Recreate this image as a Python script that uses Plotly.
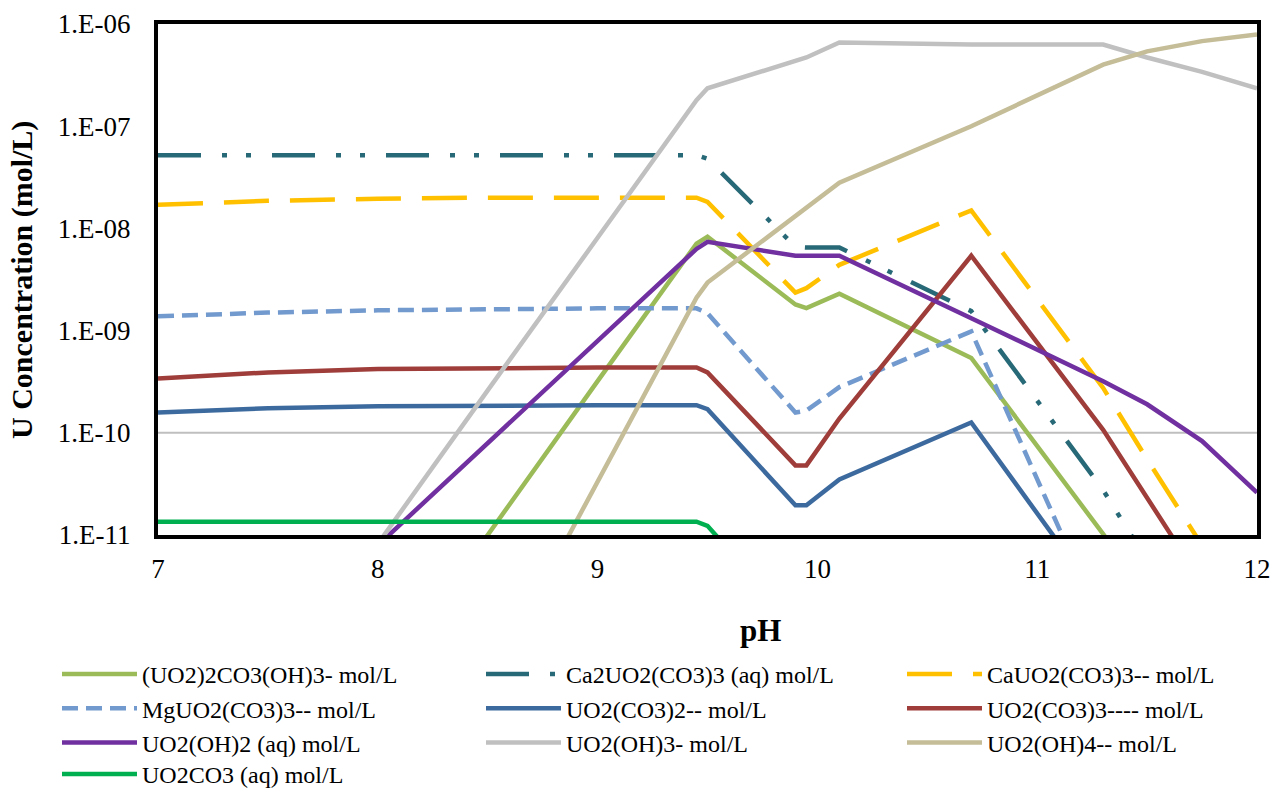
import plotly.graph_objects as go

# pH grid of the speciation run
ph = [7.0, 7.5, 8.0, 8.5, 9.0, 9.45, 9.5, 9.9, 9.95, 10.1, 10.7, 11.3, 11.5, 11.75, 12.0]

# species concentrations (mol/L) at each pH
uo2_2_co3_oh3 = [3.2e-16, 1.0e-14, 3.2e-13, 1.0e-11, 3.2e-10, 7.1e-9, 8.3e-9, 1.8e-9, 1.66e-9,
                 2.3e-9, 5.4e-10, 1.0e-11, 2.5e-12, 5.0e-13, 1.0e-13]
ca2_uo2_co3_3 = [5.2e-8, 5.2e-8, 5.2e-8, 5.2e-8, 5.2e-8, 5.2e-8, 4.8e-8, 6.6e-9, 6.5e-9,
                 6.5e-9, 1.55e-9, 2.75e-11, 5.6e-12, 1.0e-12, 1.6e-13]
ca_uo2_co3_3 = [1.7e-8, 1.86e-8, 1.95e-8, 2.0e-8, 2.0e-8, 2.0e-8, 1.82e-8, 2.35e-9, 2.6e-9,
                4.4e-9, 1.5e-8, 2.75e-10, 5.5e-11, 7.9e-12, 1.6e-12]
mg_uo2_co3_3 = [1.38e-9, 1.5e-9, 1.58e-9, 1.62e-9, 1.65e-9, 1.65e-9, 1.48e-9, 1.58e-10, 1.65e-10,
                2.8e-10, 9.8e-10, 1.26e-12, 2.5e-13, 5.0e-14, 1.0e-14]
uo2_co3_2 = [1.58e-10, 1.74e-10, 1.82e-10, 1.86e-10, 1.86e-10, 1.86e-10, 1.7e-10, 1.95e-11, 1.95e-11,
             3.5e-11, 1.26e-10, 2.1e-12, 5.0e-13, 1.0e-13, 2.0e-14]
uo2_co3_3 = [3.4e-10, 3.9e-10, 4.2e-10, 4.3e-10, 4.35e-10, 4.35e-10, 3.9e-10, 4.8e-11, 4.8e-11,
             1.38e-10, 5.4e-9, 1.07e-10, 2.2e-11, 3.2e-12, 5.0e-13]
uo2_oh2 = [7.9e-14, 7.9e-13, 7.9e-12, 7.9e-11, 7.9e-10, 6.3e-9, 7.4e-9, 5.4e-9, 5.4e-9,
           5.4e-9, 1.32e-9, 3.2e-10, 1.9e-10, 8.3e-11, 2.6e-11]
uo2_oh3 = [8.1e-15, 2.6e-13, 8.1e-12, 2.6e-10, 8.1e-9, 1.8e-7, 2.35e-7, 4.3e-7, 4.7e-7,
           6.6e-7, 6.3e-7, 6.3e-7, 4.7e-7, 3.4e-7, 2.35e-7]
uo2_oh4 = [3.3e-19, 3.3e-17, 3.3e-15, 3.3e-13, 3.3e-11, 2.1e-9, 2.95e-9, 1.3e-8, 1.6e-8,
           2.8e-8, 1.0e-7, 4.0e-7, 5.4e-7, 6.8e-7, 7.9e-7]
uo2_co3 = [1.35e-11, 1.35e-11, 1.35e-11, 1.35e-11, 1.35e-11, 1.35e-11, 1.23e-11, 1.26e-12, 1.0e-12,
           8.0e-13, 5.0e-13, 3.0e-13, 2.0e-13, 1.0e-13, 5.0e-14]

series_names = [
    "(UO2)2CO3(OH)3- mol/L", "Ca2UO2(CO3)3 (aq) mol/L", "CaUO2(CO3)3-- mol/L",
    "MgUO2(CO3)3-- mol/L", "UO2(CO3)2-- mol/L", "UO2(CO3)3---- mol/L",
    "UO2(OH)2 (aq) mol/L", "UO2(OH)3- mol/L", "UO2(OH)4-- mol/L",
    "UO2CO3 (aq) mol/L",
]
series_values = [uo2_2_co3_oh3, ca2_uo2_co3_3, ca_uo2_co3_3, mg_uo2_co3_3, uo2_co3_2,
                 uo2_co3_3, uo2_oh2, uo2_oh3, uo2_oh4, uo2_co3]
series_colors = ["#9BBB59", "#286977", "#FFC000", "#729ACE", "#3D6A9E",
                 "#9E3D39", "#7030A0", "#C0C0C0", "#C4BD97", "#00B050"]
series_dash = ["solid", "43px,21px,5px,19px,5px,21px", "45px,21px", "16px,8px", "solid",
               "solid", "solid", "solid", "solid", "solid"]

y_ticks = [1e-11, 1e-10, 1e-9, 1e-8, 1e-7, 1e-6]
y_ticktext = ["1.E-11", "1.E-10", "1.E-09", "1.E-08", "1.E-07", "1.E-06"]
x_ticks = [7, 8, 9, 10, 11, 12]

SERIF = "Liberation Serif"
W, H = 1276, 789
ML, MR, MT, MB = 158, 19, 24, 254
PW, PH = W - ML - MR, H - MT - MB


def px_x(px):
    return (px - ML) / PW


def px_y(py):
    return 1 - (py - MT) / PH


fig = go.Figure()

# single major gridline at 1E-10
fig.add_trace(go.Scatter(x=[x_ticks[0], x_ticks[-1]], y=[y_ticks[1], y_ticks[1]], mode="lines",
                         line=dict(color="#BFBFBF", width=2), showlegend=False, hoverinfo="skip"))

# legend laid out as three columns, filled row by row; the fourth row gets its own box
legend_ids = ["legend", "legend2", "legend3"]
for i, (name, vals, col, dash) in enumerate(zip(series_names, series_values, series_colors, series_dash)):
    leg = "legend4" if i == 9 else legend_ids[i % 3]
    fig.add_trace(go.Scatter(x=ph, y=vals, name=name, mode="lines", legend=leg,
                             line=dict(color=col, width=4.5, dash=dash)))

legend_common = dict(orientation="v", xanchor="left", itemwidth=75,
                     font=dict(family=SERIF, size=24, color="black"),
                     bgcolor="rgba(0,0,0,0)", tracegroupgap=0)
legend_top = px_y(652)

fig.update_layout(
    width=W, height=H,
    margin=dict(l=ML, r=MR, t=MT, b=MB, autoexpand=False),
    paper_bgcolor="white", plot_bgcolor="white",
    font=dict(family=SERIF, color="black"),
    showlegend=True,
    legend=dict(x=px_x(57), y=legend_top, yanchor="top", **legend_common),
    legend2=dict(x=px_x(481), y=legend_top, yanchor="top", **legend_common),
    legend3=dict(x=px_x(902), y=legend_top, yanchor="top", **legend_common),
    legend4=dict(x=px_x(57), y=px_y(797), yanchor="bottom", **legend_common),
    xaxis=dict(range=[7, 12], tickvals=x_ticks, ticks="", showgrid=False, zeroline=False,
               showline=True, mirror=True, linecolor="black", linewidth=4,
               tickfont=dict(family=SERIF, size=27), ticklabelstandoff=7),
    yaxis=dict(type="log", range=[-11, -6], tickvals=y_ticks, ticktext=y_ticktext, ticks="",
               showgrid=False, zeroline=False, showline=True, mirror=True,
               linecolor="black", linewidth=4,
               tickfont=dict(family=SERIF, size=27), ticklabelstandoff=18),
    annotations=[
        dict(text="<b>pH</b>", x=px_x(760), y=px_y(630), xref="paper", yref="paper",
             xanchor="center", yanchor="middle", showarrow=False,
             font=dict(family=SERIF, size=31)),
        dict(text="<b>U Concentration (mol/L)</b>", x=px_x(22), y=px_y(280),
             xref="paper", yref="paper", xanchor="center", yanchor="middle",
             showarrow=False, textangle=-90, font=dict(family=SERIF, size=30)),
    ],
)

fig.write_html("out.html")
